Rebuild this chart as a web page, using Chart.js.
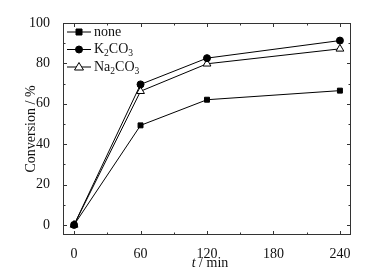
<!DOCTYPE html>
<html>
<head>
<meta charset="utf-8">
<script src="https://cdn.jsdelivr.net/npm/chart.js@4"></script>
<style>
  html, body { margin: 0; padding: 0; background: #fff; }
  #wrap { width: 382px; height: 273px; }
</style>
</head>
<body>
<div id="wrap"><canvas id="myChart" width="382" height="273"></canvas></div>
<script>
// data
const times = [0, 60, 120, 240];
const noneVals = [0, 49.3, 62, 66.5];
const k2co3Vals = [0, 69.6, 82.6, 91.3];
const na2co3Vals = [0, 66.2, 79.8, 87.2];

const xTicks = [0, 60, 120, 180, 240];
const xMinor = [30, 90, 150, 210];
const yTicks = [0, 20, 40, 60, 80, 100];
const yMinor = [10, 30, 50, 70, 90];

// legend labels: [text, isSubscript] pieces
const legendItems = [
  { parts: [["none", false]], style: 'rect', fill: '#000' },
  { parts: [["K", false], ["2", true], ["CO", false], ["3", true]], style: 'circle', fill: '#000' },
  { parts: [["Na", false], ["2", true], ["CO", false], ["3", true]], style: 'triangle', fill: '#fff' }
];

const FONT = "'Liberation Serif', 'DejaVu Serif', serif";

function pts(vals) {
  return times.map((t, i) => ({ x: t, y: vals[i] }));
}

// draws inward ticks on all four sides, the frame, the legend and the x title
const framePlugin = {
  id: 'frame',
  afterDraw(chart) {
    const ctx = chart.ctx;
    const a = chart.chartArea;
    const xs = chart.scales.x, ys = chart.scales.y;
    ctx.save();
    ctx.strokeStyle = '#333';
    ctx.lineWidth = 1;
    ctx.strokeRect(a.left + 0.5, a.top + 0.5, a.right - a.left - 1, a.bottom - a.top - 1);

    ctx.beginPath();
    xTicks.concat(xMinor).forEach(v => {
      const len = xTicks.includes(v) ? 4 : 2.5;
      const px = Math.round(xs.getPixelForValue(v)) + 0.5;
      ctx.moveTo(px, a.bottom); ctx.lineTo(px, a.bottom - len);
      ctx.moveTo(px, a.top); ctx.lineTo(px, a.top + len);
    });
    yTicks.concat(yMinor).forEach(v => {
      const len = yTicks.includes(v) ? 4 : 2.5;
      const py = Math.round(ys.getPixelForValue(v)) + 0.5;
      ctx.moveTo(a.left, py); ctx.lineTo(a.left + len, py);
      ctx.moveTo(a.right, py); ctx.lineTo(a.right - len, py);
    });
    ctx.stroke();

    // legend
    ctx.fillStyle = '#111';
    ctx.strokeStyle = '#000';
    ctx.textBaseline = 'middle';
    legendItems.forEach((item, i) => {
      const y = a.top + 9 + i * 17.5;
      const x0 = a.left + 4;
      ctx.beginPath();
      ctx.moveTo(x0, y); ctx.lineTo(x0 + 24, y);
      ctx.stroke();
      const cx = x0 + 12;
      ctx.beginPath();
      if (item.style === 'rect') {
        ctx.rect(cx - 3, y - 3, 6, 6);
      } else if (item.style === 'circle') {
        ctx.arc(cx, y, 3.5, 0, Math.PI * 2);
      } else {
        ctx.moveTo(cx, y - 4.5); ctx.lineTo(cx + 4.5, y + 3); ctx.lineTo(cx - 4.5, y + 3); ctx.closePath();
      }
      ctx.fillStyle = item.fill;
      ctx.fill();
      ctx.stroke();
      ctx.fillStyle = '#111';
      let tx = x0 + 27;
      item.parts.forEach(([s, sub]) => {
        ctx.font = (sub ? '9.5px ' : '14px ') + FONT;
        ctx.fillText(s, tx, sub ? y + 4 : y);
        tx += ctx.measureText(s).width;
      });
    });

    // x title with italic t
    ctx.textBaseline = 'alphabetic';
    const midX = (a.left + a.right) / 2 + 3;
    ctx.font = 'italic 14px ' + FONT;
    const tW = ctx.measureText('t').width;
    ctx.font = '14px ' + FONT;
    const rW = ctx.measureText(' / min').width;
    let sx = midX - (tW + rW) / 2;
    ctx.font = 'italic 14px ' + FONT;
    ctx.fillText('t', sx, 267);
    ctx.font = '14px ' + FONT;
    ctx.fillText(' / min', sx + tW, 267);
    ctx.restore();
  }
};

const lineDs = (label, vals, style, fill, r) => ({
  label: label,
  data: pts(vals),
  borderColor: '#000',
  borderWidth: 1,
  pointStyle: style,
  pointBackgroundColor: fill,
  pointBorderColor: '#000',
  pointBorderWidth: 1,
  pointRadius: r,
  showLine: true,
  tension: 0
});

new Chart(document.getElementById('myChart'), {
  type: 'scatter',
  data: {
    datasets: [
      lineDs('none', noneVals, 'rect', '#000', 3.5),
      lineDs('K2CO3', k2co3Vals, 'circle', '#000', 3.5),
      lineDs('Na2CO3', na2co3Vals, 'triangle', '#fff', 4.5)
    ]
  },
  options: {
    responsive: false,
    animation: false,
    layout: { padding: { top: 23, right: 31, left: 23, bottom: 0 } },
    plugins: {
      legend: { display: false },
      tooltip: { enabled: false }
    },
    scales: {
      x: {
        type: 'linear',
        min: -10,
        max: 250,
        afterBuildTicks: s => { s.ticks = xTicks.map(v => ({ value: v })); },
        afterFit: s => { s.height = 38; },
        grid: { display: false },
        border: { display: false },
        ticks: { color: '#111', font: { family: FONT, size: 14 }, padding: 3, maxRotation: 0 }
      },
      y: {
        min: -5,
        max: 100,
        afterBuildTicks: s => { s.ticks = yTicks.map(v => ({ value: v })); },
        afterFit: s => { s.width = 40; },
        grid: { display: false },
        border: { display: false },
        ticks: { color: '#111', font: { family: FONT, size: 14 }, padding: 5 },
        title: {
          display: true,
          text: 'Conversion / %',
          color: '#111',
          font: { family: FONT, size: 14 },
          padding: { top: 0, bottom: 0 }
        }
      }
    }
  },
  plugins: [framePlugin]
});
</script>
</body>
</html>
